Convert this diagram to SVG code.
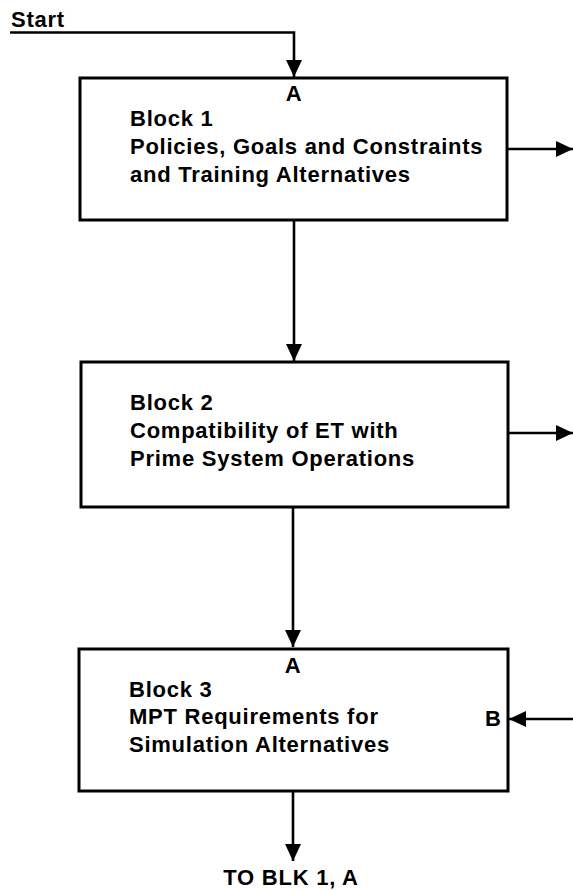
<svg xmlns="http://www.w3.org/2000/svg" width="573" height="890" viewBox="0 0 573 890">
  <style>
    .box { fill: #ffffff; stroke: #000000; stroke-width: 3; }
    .wire { fill: none; stroke: #000000; stroke-width: 2.6; }
    .lbl { font-family: "Liberation Sans", Arial, Helvetica, sans-serif; font-weight: bold; font-size: 22px; letter-spacing: 0.75px; fill: #000000; }
    .mid { text-anchor: middle; }
  </style>
  <defs>
    <marker id="head" viewBox="0 0 17 16" refX="17" refY="8" markerWidth="17" markerHeight="16" markerUnits="userSpaceOnUse" orient="auto">
      <path d="M0,0 L17,8 L0,16 z" fill="#000000"/>
    </marker>
  </defs>
  <rect width="573" height="890" fill="#ffffff"/>

  <!-- connectors -->
  <g id="connectors">
    <polyline class="wire" points="10,32.5 294,32.5 294,77" marker-end="url(#head)"/>
    <line class="wire" x1="507" y1="149" x2="573" y2="149" marker-end="url(#head)"/>
    <line class="wire" x1="294" y1="220" x2="294" y2="361" marker-end="url(#head)"/>
    <line class="wire" x1="508" y1="433" x2="573" y2="433" marker-end="url(#head)"/>
    <line class="wire" x1="293" y1="507" x2="293" y2="647" marker-end="url(#head)"/>
    <line class="wire" x1="573" y1="719" x2="509" y2="719" marker-end="url(#head)"/>
    <line class="wire" x1="293" y1="791" x2="293" y2="861" marker-end="url(#head)"/>
  </g>

  <text class="lbl" x="11" y="27">Start</text>

  <g id="block1">
    <rect class="box" x="80" y="78" width="427" height="142"/>
    <text class="lbl mid" x="294" y="101">A</text>
    <text class="lbl" x="130" y="126">Block 1</text>
    <text class="lbl" x="130" y="154">Policies, Goals and Constraints</text>
    <text class="lbl" x="130" y="182">and Training Alternatives</text>
  </g>

  <g id="block2">
    <rect class="box" x="81" y="362" width="427" height="145"/>
    <text class="lbl" x="130" y="410">Block 2</text>
    <text class="lbl" x="130" y="438">Compatibility of ET with</text>
    <text class="lbl" x="130" y="466">Prime System Operations</text>
  </g>

  <g id="block3">
    <rect class="box" x="79" y="649" width="429" height="142"/>
    <text class="lbl mid" x="293" y="673">A</text>
    <text class="lbl" x="129" y="697">Block 3</text>
    <text class="lbl" x="129" y="724">MPT Requirements for</text>
    <text class="lbl" x="129" y="752">Simulation Alternatives</text>
    <text class="lbl" x="485" y="726">B</text>
  </g>

  <text class="lbl mid" x="291" y="885">TO BLK 1, A</text>
</svg>
